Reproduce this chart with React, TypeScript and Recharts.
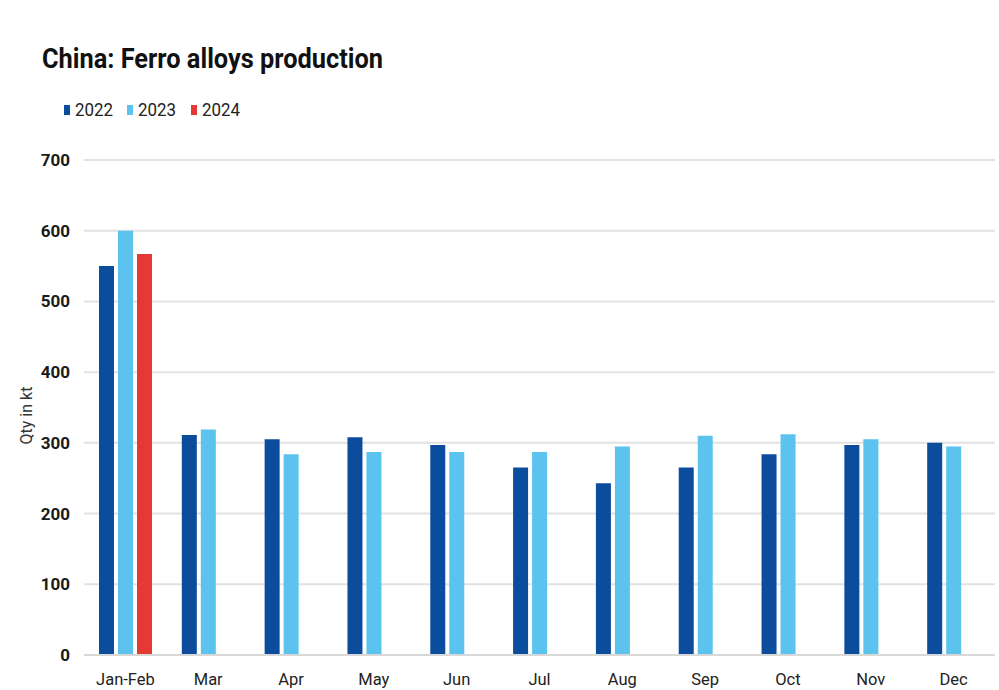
import { BarChart, Bar, XAxis, YAxis, CartesianGrid } from "recharts";

const months = ["Jan-Feb", "Mar", "Apr", "May", "Jun", "Jul", "Aug", "Sep", "Oct", "Nov", "Dec"];
const y2022 = [550, 311, 305, 308, 297, 265, 243, 265, 284, 297, 300];
const y2023 = [600, 319, 284, 287, 287, 287, 295, 310, 312, 305, 295];
const y2024 = [567, null, null, null, null, null, null, null, null, null, null];
const yTicks = [0, 100, 200, 300, 400, 500, 600, 700];

const series = [
  { key: "2022", color: "#0C4C9C" },
  { key: "2023", color: "#5BC3EE" },
  { key: "2024", color: "#E53935" },
];

const data = months.map((m, i) => ({
  month: m,
  "2022": y2022[i],
  "2023": y2023[i],
  "2024": y2024[i],
}));

const font = "Roboto, 'Liberation Sans', sans-serif";

export default function App() {
  return (
    <div style={{ position: "absolute", left: 0, top: 0, width: 999, height: 690, background: "#fff", fontFamily: font }}>
      <svg width={999} height={90} style={{ position: "absolute", left: 0, top: 0 }}>
        <text
          x={42}
          y={68}
          fontSize={28}
          fontWeight={700}
          fill="#111"
          fontFamily={font}
          textLength={341}
          lengthAdjust="spacingAndGlyphs"
        >
          China: Ferro alloys production
        </text>
      </svg>

      {/* legend */}
      <div style={{ position: "absolute", left: 64, top: 99, display: "flex", gap: 12 }}>
        {series.map((s) => (
          <div key={s.key} style={{ display: "flex", alignItems: "center", fontSize: 18, color: "#222" }}>
            <span style={{ width: 6, height: 10, background: s.color, display: "inline-block", marginRight: 5 }} />
            <span style={{ display: "inline-block", transform: "scaleX(0.94)", transformOrigin: "left center" }}>{s.key}</span>
          </div>
        ))}
      </div>

      <BarChart
        width={999}
        height={690}
        data={data}
        margin={{ top: 160, right: 4, bottom: 5, left: 0 }}
        barGap={4}
        barSize={15}
        style={{ position: "absolute", left: 0, top: 0 }}
      >
        <CartesianGrid vertical={false} stroke="#e2e2e2" strokeWidth={2} />
        <XAxis
          dataKey="month"
          tickLine={false}
          tickSize={0}
          tickMargin={18}
          axisLine={{ stroke: "#d8d8d8", strokeWidth: 2 }}
          tick={{ fontSize: 16.5, fill: "#222", fontFamily: font }}
          interval={0}
        />
        <YAxis
          width={84}
          domain={[0, 700]}
          ticks={yTicks}
          tickLine={false}
          axisLine={false}
          tickSize={0}
          tickMargin={14}
          tick={{ fontSize: 17, fontWeight: 700, fill: "#1a1a1a", fontFamily: font }}
          label={{
            value: "Qty in kt",
            angle: -90,
            position: "center",
            dx: -16,
            dy: 8,
            style: { fontSize: 16, fill: "#333", fontFamily: font, textAnchor: "middle" },
          }}
        />
        {series.map((s) => (
          <Bar key={s.key} dataKey={s.key} fill={s.color} isAnimationActive={false} />
        ))}
      </BarChart>
    </div>
  );
}
